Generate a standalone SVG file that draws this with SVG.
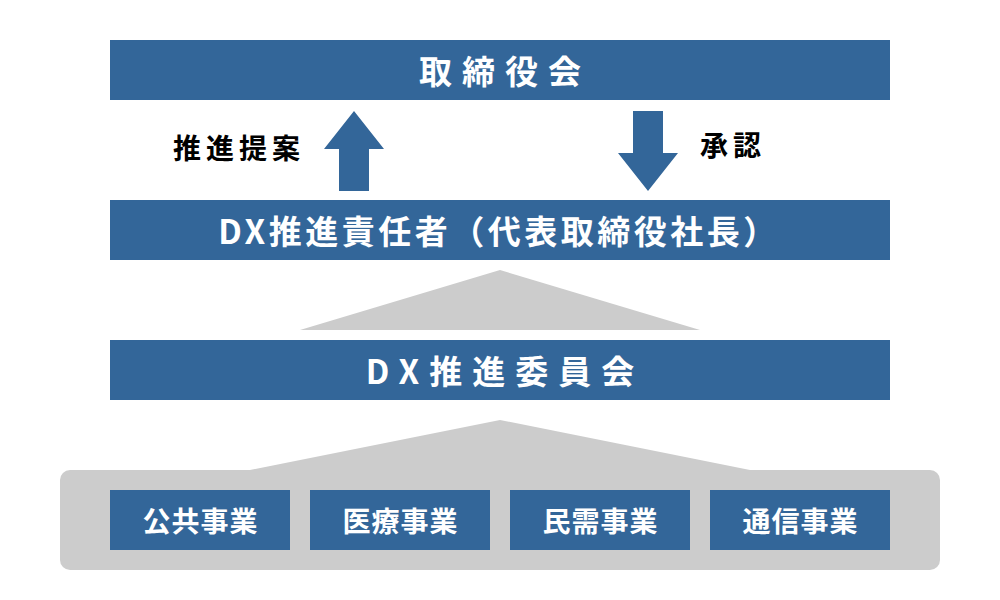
<svg xmlns="http://www.w3.org/2000/svg" width="1000" height="600" viewBox="0 0 1000 600">
<style>
.bar{fill:#336699}
.gray{fill:#cccccc}
.wt{fill:#ffffff;font-family:"Noto Sans CJK JP","Noto Sans",sans-serif;font-weight:bold;text-anchor:middle;dominant-baseline:central}
.bk{fill:#000000;font-family:"Noto Sans CJK JP","Noto Sans",sans-serif;font-weight:bold;dominant-baseline:central}
.arrow{fill:#336699}
</style>
<rect width="1000" height="600" fill="#ffffff"/>
<g id="decor">
<polygon class="gray" points="500,270 700,330 300,330"/>
<polygon class="gray" points="500,420 750,470 250,470"/>
<rect class="gray" x="60" y="470" width="880" height="100" rx="10" ry="10"/>
</g>
<g id="connectors">
<polygon class="arrow" points="354,111 384,149 369,149 369,191 339,191 339,149 324,149"/>
<polygon class="arrow" points="633,111 663,111 663,153 678,153 648,191 618,153 633,153"/>
</g>
<g id="label-proposal"><text class="bk" x="173" y="147" font-size="28" letter-spacing="5">推進提案</text></g>
<g id="label-approval"><text class="bk" x="700" y="144" font-size="28" letter-spacing="5">承認</text></g>
<g id="board">
<rect class="bar" x="110" y="40" width="780" height="60"/>
<text class="wt" x="505" y="70" font-size="33" letter-spacing="10">取締役会</text>
</g>
<g id="dx-leader">
<rect class="bar" x="110" y="200" width="780" height="60"/>
<text class="wt" x="499" y="230" font-size="33" letter-spacing="3.5">DX推進責任者（代表取締役社長）</text>
</g>
<g id="dx-committee">
<rect class="bar" x="110" y="340" width="780" height="60"/>
<text class="wt" x="505" y="370" font-size="33" letter-spacing="10">DX推進委員会</text>
</g>
<g id="public">
<rect class="bar" x="110" y="490" width="180" height="60"/>
<text class="wt" x="200.5" y="520" font-size="28" letter-spacing="1">公共事業</text>
</g>
<g id="medical">
<rect class="bar" x="310" y="490" width="180" height="60"/>
<text class="wt" x="400.5" y="520" font-size="28" letter-spacing="1">医療事業</text>
</g>
<g id="private">
<rect class="bar" x="510" y="490" width="180" height="60"/>
<text class="wt" x="600.5" y="520" font-size="28" letter-spacing="1">民需事業</text>
</g>
<g id="telecom">
<rect class="bar" x="710" y="490" width="180" height="60"/>
<text class="wt" x="800.5" y="520" font-size="28" letter-spacing="1">通信事業</text>
</g>
</svg>
